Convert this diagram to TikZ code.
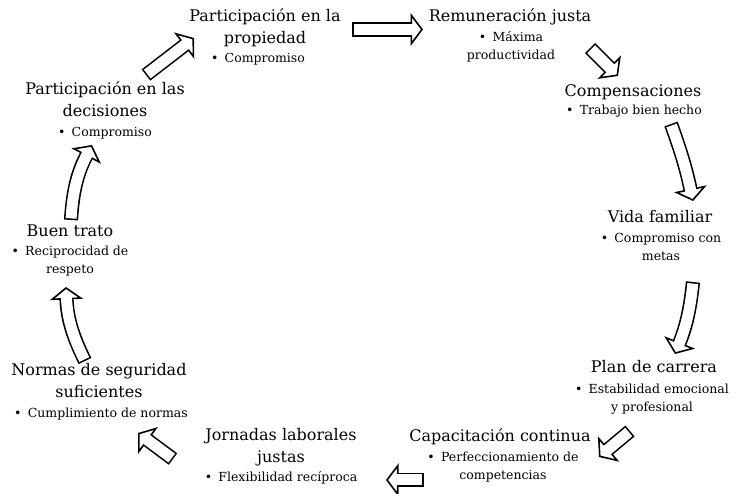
\documentclass[tikz,border=0pt]{standalone}
\usepackage{fontspec}
\setmainfont{DejaVu Serif}
\usetikzlibrary{arrows.meta}

\begin{document}
\begin{tikzpicture}[x=1pt, y=-1pt,
    % estilos de texto: titulo de cada etapa y su punto (base = ultima linea)
        titulo/.style={anchor=base, align=center, inner sep=0pt, font=\fontsize{16}{22}\selectfont},
        punto/.style={anchor=base, align=center, inner sep=0pt, font=\fontsize{12.5}{18}\selectfont},
    % flecha de bloque hueca (contorno negro, relleno blanco)
        flecha/.style={draw=white, line width=11pt, shorten <=1.6pt, shorten >=10pt,
            preaction={draw=black, line width=14.2pt, shorten <=0pt, shorten >=0pt,
                -{Triangle[length=12.5pt, width=33pt, line width=1.6pt, fill=white]}}}
    ]
    \useasboundingbox (0,0) rectangle (740,494);

    % --- ETAPAS DEL CICLO ---
    \node[titulo] (prop) at (265,44) {Participación en la\\propiedad};
    \node[punto] (propb) at (258,63) {•\hspace{0.5em}Compromiso};

    \node[titulo] (rem) at (510,22) {Remuneración justa};
    \node[punto] (remb) at (511,60) {•\hspace{0.5em}Máxima\\productividad};

    \node[titulo] (comp) at (633,97) {Compensaciones};
    \node[punto] (compb) at (634,115) {•\hspace{0.5em}Trabajo bien hecho};

    \node[titulo] (vida) at (660,223) {Vida familiar};
    \node[punto] (vidab) at (661,261) {•\hspace{0.5em}Compromiso con\\metas};

    \node[titulo] (plan) at (654,373) {Plan de carrera};
    \node[punto] (planb) at (652,412) {•\hspace{0.5em}Estabilidad emocional\\y profesional};

    \node[titulo] (capa) at (500,442) {Capacitación continua};
    \node[punto] (capab) at (503,480) {•\hspace{0.5em}Perfeccionamiento de\\competencias};

    \node[titulo] (jorn) at (281,463) {Jornadas laborales\\justas};
    \node[punto] (jornb) at (281,482) {•\hspace{0.5em}Flexibilidad recíproca};

    \node[titulo] (norm) at (99,398) {Normas de seguridad\\suficientes};
    \node[punto] (normb) at (101,418) {•\hspace{0.5em}Cumplimiento de normas};

    \node[titulo] (buen) at (70,237) {Buen trato};
    \node[punto] (buenb) at (70,274) {•\hspace{0.5em}Reciprocidad de\\respeto};

    \node[titulo] (deci) at (105,117) {Participación en las\\decisiones};
    \node[punto] (decib) at (105,137) {•\hspace{0.5em}Compromiso};

    % --- EXTREMOS DE LAS FLECHAS ---
    \coordinate (s1) at (352,29.5);  \coordinate (e1) at (423,29.5);
    \coordinate (s2) at (590,48);    \coordinate (e2) at (618,76);
    \coordinate (s3) at (671,124);   \coordinate (e3) at (693,201);
    \coordinate (s4) at (693,282);   \coordinate (e4) at (675,354);
    \coordinate (s5) at (630,431);   \coordinate (e5) at (599,457);
    \coordinate (s6) at (424,480);   \coordinate (e6) at (386,480);
    \coordinate (s7) at (173,459);   \coordinate (e7) at (138,433);
    \coordinate (s8) at (85,361);    \coordinate (e8) at (66,287);
    \coordinate (s9) at (71,220);    \coordinate (e9) at (92,145);
    \coordinate (s10) at (146,75);   \coordinate (e10) at (194,38);

    % --- FLECHAS ---
    \draw[flecha] (s1) -- (e1);
    \draw[flecha] (s2) -- (e2);
    \draw[flecha] (s3) to[bend left=4] (e3);
    \draw[flecha] (s4) to[bend left=8] (e4);
    \draw[flecha] (s5) -- (e5);
    \draw[flecha] (s6) -- (e6);
    \draw[flecha] (s7) -- (e7);
    \draw[flecha] (s8) to[bend left=12] (e8);
    \draw[flecha] (s9) to[bend left=12] (e9);
    \draw[flecha] (s10) -- (e10);
\end{tikzpicture}
\end{document}
